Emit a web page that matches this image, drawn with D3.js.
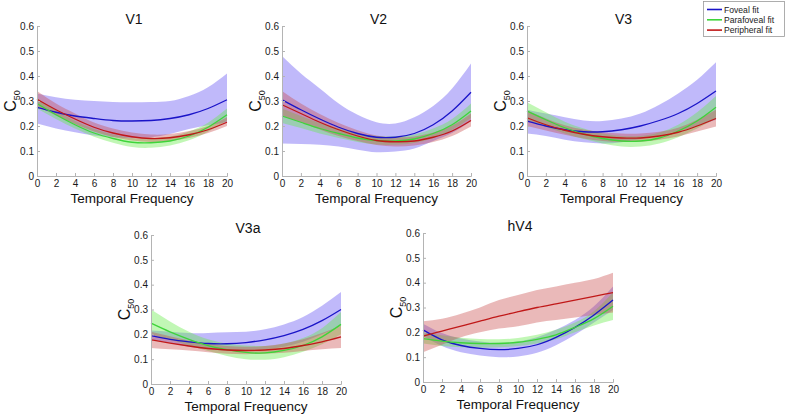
<!DOCTYPE html>
<html><head><meta charset="utf-8">
<script src="https://cdn.jsdelivr.net/npm/d3@7"></script>
<style>
html,body{margin:0;padding:0;background:#fff;}
svg{display:block;font-family:"Liberation Sans",Arial,Helvetica,sans-serif;}
</style></head>
<body>
<svg id="chart" width="787" height="420"></svg>
<script>
// ---- data ----
const tf = [0,2,4,6,8,10,12,14,16,18,20];
const xTicks = [0,2,4,6,8,10,12,14,16,18,20];
const yTicks = [0,0.1,0.2,0.3,0.4,0.5,0.6];
const seriesNames = ["Foveal fit","Parafoveal fit","Peripheral fit"];
const panelNames = ["V1","V2","V3","V3a","hV4"];

// V1
const v1Fov   = [0.275,0.255,0.240,0.230,0.222,0.220,0.222,0.230,0.245,0.270,0.305];
const v1FovLo = [0.210,0.190,0.175,0.162,0.155,0.152,0.155,0.168,0.188,0.203,0.215];
const v1FovHi = [0.330,0.315,0.305,0.300,0.296,0.295,0.296,0.300,0.320,0.355,0.410];
const v1Par   = [0.290,0.245,0.205,0.172,0.150,0.135,0.133,0.140,0.160,0.195,0.245];
const v1ParLo = [0.270,0.228,0.190,0.157,0.133,0.116,0.113,0.122,0.143,0.177,0.222];
const v1ParHi = [0.312,0.262,0.220,0.188,0.166,0.152,0.150,0.158,0.178,0.213,0.270];
const v1Per   = [0.307,0.265,0.228,0.195,0.172,0.157,0.150,0.153,0.165,0.185,0.215];
const v1PerLo = [0.280,0.242,0.208,0.178,0.156,0.142,0.136,0.140,0.152,0.172,0.200];
const v1PerHi = [0.340,0.290,0.250,0.214,0.190,0.174,0.166,0.168,0.180,0.200,0.235];
// V2
const v2Fov   = [0.305,0.265,0.228,0.195,0.170,0.155,0.155,0.170,0.205,0.260,0.335];
const v2FovLo = [0.130,0.128,0.125,0.118,0.105,0.095,0.098,0.110,0.140,0.172,0.220];
const v2FovHi = [0.480,0.410,0.350,0.290,0.245,0.215,0.210,0.235,0.280,0.350,0.450];
const v2Par   = [0.240,0.215,0.190,0.170,0.152,0.142,0.140,0.148,0.170,0.205,0.260];
const v2ParLo = [0.212,0.192,0.170,0.152,0.136,0.126,0.125,0.132,0.152,0.185,0.232];
const v2ParHi = [0.270,0.240,0.212,0.190,0.170,0.160,0.158,0.166,0.190,0.228,0.290];
const v2Per   = [0.285,0.250,0.215,0.185,0.160,0.142,0.137,0.140,0.155,0.180,0.222];
const v2PerLo = [0.240,0.215,0.186,0.160,0.140,0.124,0.118,0.122,0.136,0.160,0.198];
const v2PerHi = [0.340,0.290,0.248,0.212,0.183,0.162,0.155,0.158,0.174,0.202,0.250];
// V3
const v3Fov   = [0.220,0.200,0.185,0.177,0.177,0.185,0.200,0.222,0.250,0.290,0.340];
const v3FovLo = [0.170,0.160,0.145,0.135,0.130,0.135,0.148,0.163,0.180,0.200,0.225];
const v3FovHi = [0.265,0.250,0.235,0.222,0.220,0.230,0.250,0.285,0.330,0.385,0.455];
const v3Par   = [0.260,0.225,0.193,0.168,0.150,0.140,0.140,0.152,0.180,0.220,0.275];
const v3ParLo = [0.225,0.197,0.170,0.148,0.130,0.118,0.118,0.130,0.155,0.190,0.230];
const v3ParHi = [0.295,0.255,0.217,0.190,0.170,0.160,0.160,0.174,0.205,0.255,0.320];
const v3Per   = [0.233,0.205,0.183,0.167,0.157,0.152,0.152,0.160,0.175,0.200,0.230];
const v3PerLo = [0.200,0.182,0.165,0.150,0.140,0.136,0.137,0.145,0.158,0.178,0.198];
const v3PerHi = [0.262,0.230,0.203,0.186,0.175,0.170,0.170,0.177,0.193,0.225,0.265];
// V3a
const v3aFov   = [0.195,0.180,0.170,0.163,0.162,0.167,0.178,0.195,0.220,0.255,0.300];
const v3aFovLo = [0.180,0.165,0.150,0.140,0.135,0.135,0.140,0.150,0.170,0.200,0.235];
const v3aFovHi = [0.215,0.210,0.205,0.205,0.208,0.210,0.220,0.240,0.270,0.315,0.370];
const v3aPar   = [0.245,0.210,0.180,0.155,0.138,0.127,0.125,0.135,0.155,0.190,0.240];
const v3aParLo = [0.200,0.178,0.155,0.133,0.113,0.100,0.098,0.108,0.130,0.160,0.200];
const v3aParHi = [0.300,0.252,0.210,0.180,0.163,0.155,0.153,0.163,0.185,0.225,0.290];
const v3aPer   = [0.178,0.165,0.153,0.143,0.137,0.135,0.137,0.143,0.155,0.170,0.190];
const v3aPerLo = [0.145,0.140,0.135,0.128,0.122,0.120,0.122,0.126,0.133,0.140,0.145];
const v3aPerHi = [0.210,0.192,0.175,0.162,0.153,0.150,0.153,0.163,0.180,0.205,0.235];
// hV4
const hv4Fov   = [0.210,0.170,0.147,0.135,0.130,0.135,0.150,0.180,0.220,0.270,0.330];
const hv4FovLo = [0.185,0.145,0.120,0.107,0.100,0.103,0.118,0.148,0.190,0.240,0.290];
const hv4FovHi = [0.235,0.197,0.175,0.163,0.158,0.163,0.180,0.210,0.250,0.305,0.385];
const hv4Par   = [0.175,0.165,0.158,0.155,0.155,0.160,0.172,0.190,0.220,0.255,0.305];
const hv4ParLo = [0.155,0.145,0.140,0.138,0.140,0.145,0.155,0.172,0.200,0.228,0.250];
const hv4ParHi = [0.200,0.188,0.178,0.173,0.172,0.177,0.190,0.210,0.240,0.285,0.360];
const hv4Per   = [0.185,0.205,0.225,0.245,0.265,0.283,0.300,0.315,0.330,0.345,0.360];
const hv4PerLo = [0.120,0.150,0.180,0.200,0.215,0.225,0.240,0.250,0.260,0.270,0.280];
const hv4PerHi = [0.245,0.255,0.275,0.300,0.330,0.350,0.370,0.385,0.400,0.415,0.440];

const panelData = [
  [[v1Fov,v1FovLo,v1FovHi],[v1Par,v1ParLo,v1ParHi],[v1Per,v1PerLo,v1PerHi]],
  [[v2Fov,v2FovLo,v2FovHi],[v2Par,v2ParLo,v2ParHi],[v2Per,v2PerLo,v2PerHi]],
  [[v3Fov,v3FovLo,v3FovHi],[v3Par,v3ParLo,v3ParHi],[v3Per,v3PerLo,v3PerHi]],
  [[v3aFov,v3aFovLo,v3aFovHi],[v3aPar,v3aParLo,v3aParHi],[v3aPer,v3aPerLo,v3aPerHi]],
  [[hv4Fov,hv4FovLo,hv4FovHi],[hv4Par,hv4ParLo,hv4ParHi],[hv4Per,hv4PerLo,hv4PerHi]]
];

// ---- layout & style ----
const layout = [
  {x0:37,  x1:227, y0:176, y1:26},
  {x0:282, x1:471, y0:176, y1:26},
  {x0:527, x1:716, y0:176, y1:26},
  {x0:151, x1:341, y0:384, y1:235},
  {x0:423, x1:613, y0:382, y1:233}
];
const lineColors = ["#1a14c8","#3ed43a","#c01818"];
const bandColors = ["rgb(80,60,240)","rgb(100,235,70)","rgb(200,70,70)"];
const bandOpacity = [0.36,0.4,0.38];
const axisColor = "#b4b4b4";

const svg = d3.select("#chart");

panelNames.forEach((name, pi) => {
  const L = layout[pi];
  const x = d3.scaleLinear().domain([0,20]).range([L.x0, L.x1]);
  const y = d3.scaleLinear().domain([0,0.6]).range([L.y0, L.y1]);
  const g = svg.append("g");

  // bands
  panelData[pi].forEach((s, si) => {
    const pts = tf.map((t,i) => ({t, lo:s[1][i], hi:s[2][i]}));
    g.append("path")
      .attr("d", d3.area().curve(d3.curveNatural)
        .x(d => x(d.t)).y0(d => y(d.lo)).y1(d => y(d.hi))(pts))
      .attr("fill", bandColors[si]).attr("fill-opacity", bandOpacity[si]);
  });
  // lines
  panelData[pi].forEach((s, si) => {
    const pts = tf.map((t,i) => ({t, v:s[0][i]}));
    g.append("path")
      .attr("d", d3.line().curve(d3.curveNatural).x(d => x(d.t)).y(d => y(d.v))(pts))
      .attr("fill","none").attr("stroke", lineColors[si]).attr("stroke-width",1.3);
  });

  // axes
  const xa = g.append("g").attr("transform",`translate(0,${L.y0})`)
    .call(d3.axisBottom(x).tickValues(xTicks).tickSize(-3).tickPadding(4).tickFormat(d3.format("d")));
  const ya = g.append("g").attr("transform",`translate(${L.x0},0)`)
    .call(d3.axisLeft(y).tickValues(yTicks).tickSize(-3).tickPadding(3).tickFormat(d => d===0 ? "0" : d3.format(".1f")(d)));
  [xa,ya].forEach(a => {
    a.select(".domain").attr("stroke",axisColor).attr("stroke-width",1);
    a.selectAll(".tick line").attr("stroke",axisColor);
    a.selectAll("text").attr("fill","#1a1a1a").attr("font-size",10)
      .attr("font-family","'Liberation Sans',Arial,sans-serif");
  });

  // title
  g.append("text").attr("x",(L.x0+L.x1)/2 + 2).attr("y",L.y1 - 2)
    .attr("text-anchor","middle").attr("font-size",14).attr("fill","#111").text(name);
  // x label
  g.append("text").attr("x",(L.x0+L.x1)/2).attr("y",L.y0 + 27)
    .attr("text-anchor","middle").attr("font-size",13.5).attr("fill","#111").text("Temporal Frequency");
  // y label C50
  const yl = g.append("text")
    .attr("transform",`translate(${L.x0 - 21},${(L.y0+L.y1)/2}) rotate(-90)`)
    .attr("text-anchor","middle").attr("font-size",16).attr("fill","#111");
  yl.append("tspan").text("C");
  yl.append("tspan").attr("font-size",9).attr("dy",4).text("50");
});

// legend
const lg = svg.append("g");
lg.append("rect").attr("x",703.5).attr("y",1.5).attr("width",81).attr("height",35)
  .attr("fill","#fff").attr("stroke","#999").attr("stroke-width",0.8);
seriesNames.forEach((n,i) => {
  const yy = 9.5 + i*10.3;
  lg.append("line").attr("x1",707).attr("x2",722).attr("y1",yy).attr("y2",yy)
    .attr("stroke",lineColors[i]).attr("stroke-width",1.6);
  lg.append("text").attr("x",724).attr("y",yy+3).attr("font-size",8.6).attr("fill","#222").text(n);
});
</script>
</body></html>
